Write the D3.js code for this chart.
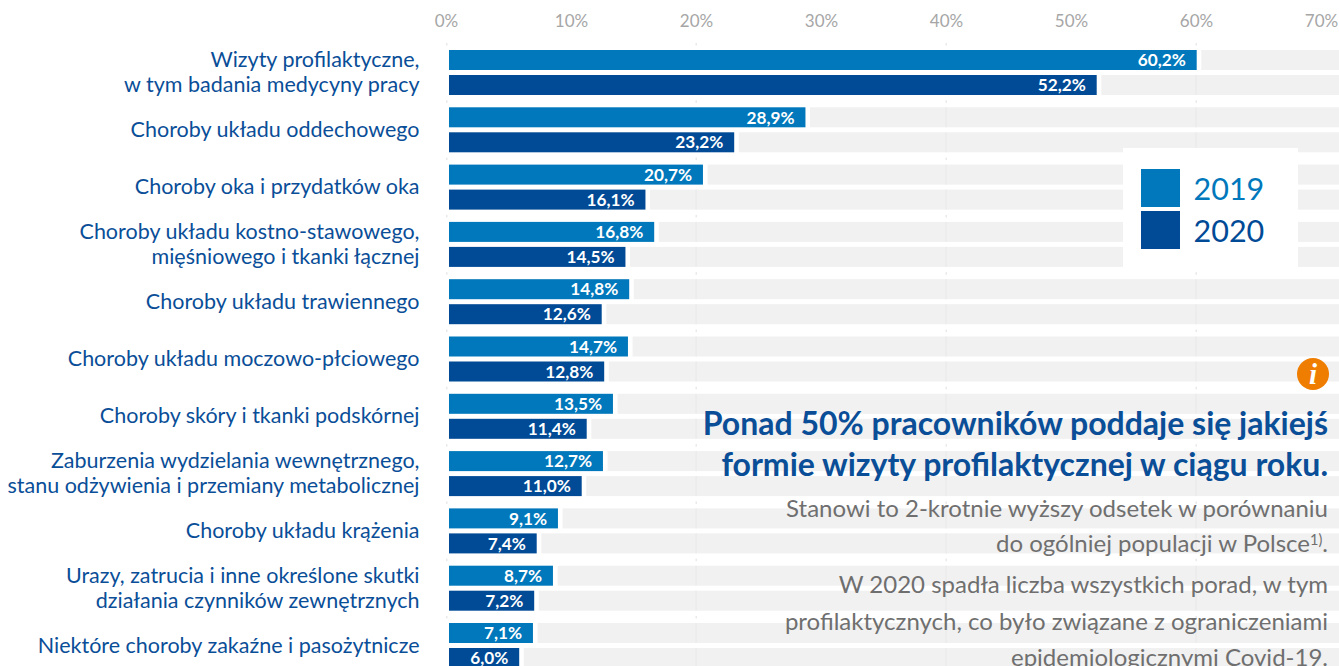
<!DOCTYPE html>
<html><head><meta charset="utf-8">
<script src="https://cdn.jsdelivr.net/npm/d3@7"></script>
<style>html,body{margin:0;padding:0;background:#fff;overflow:hidden}svg{display:block}text{font-family:Lato,sans-serif}</style>
</head><body><div id="c"></div>
<script>
const categories=[
 ["Wizyty profilaktyczne,","w tym badania medycyny pracy"],
 ["Choroby układu oddechowego"],
 ["Choroby oka i przydatków oka"],
 ["Choroby układu kostno-stawowego,","mięśniowego i tkanki łącznej"],
 ["Choroby układu trawiennego"],
 ["Choroby układu moczowo-płciowego"],
 ["Choroby skóry i tkanki podskórnej"],
 ["Zaburzenia wydzielania wewnętrznego,","stanu odżywienia i przemiany metabolicznej"],
 ["Choroby układu krążenia"],
 ["Urazy, zatrucia i inne określone skutki","działania czynników zewnętrznych"],
 ["Niektóre choroby zakaźne i pasożytnicze"]];
const values2019=[60.2,28.9,20.7,16.8,14.8,14.7,13.5,12.7,9.1,8.7,7.1];
const values2020=[52.2,23.2,16.1,14.5,12.6,12.8,11.4,11.0,7.4,7.2,6.0];
const seriesNames=["2019","2020"];
const tickValues=[0,10,20,30,40,50,60,70];
const gridValues=[0,20,40,60];
const headline=["Ponad 50% pracowników poddaje się jakiejś","formie wizyty profilaktycznej w ciągu roku."];

const W=1339,H=666;
const c19="#0078bb",c20="#004a96",navy="#0a4e98";
const svg=d3.select("#c").append("svg").attr("width",W).attr("height",H);
const x=d3.scaleLinear().domain([0,70]).range([446,1321]);
const y=d3.scaleBand().domain(d3.range(categories.length)).range([50,50+57.3*categories.length]);
const sub=d3.scaleOrdinal().domain([0,1]).range([0,25]);
const barH=20;

const rows=svg.append("g").selectAll("g").data(categories.map((d,i)=>i)).join("g").attr("transform",i=>`translate(0,${y(i)})`);
// small grid marks between groups
gridValues.forEach(g=>{
  rows.append("rect").attr("x",x(g)+(g===0?0:-0.5)).attr("y",-7).attr("width",1.5).attr("height",2.5).attr("fill","#e9e9e9");
});
[values2019,values2020].forEach((vals,s)=>{
  rows.append("rect").attr("x",i=>x(vals[i])+2.8).attr("y",sub(s)).attr("width",i=>W+20-x(vals[i])).attr("height",barH).attr("fill","#f1f1f1");
  gridValues.forEach(g=>{
    rows.filter(i=>x(g)>x(vals[i])+2.8).append("rect").attr("x",x(g)-0.5).attr("y",sub(s)).attr("width",1.2).attr("height",barH).attr("fill","#eaeaea");
  });
  rows.append("rect").attr("x",x(0)+3).attr("y",sub(s)).attr("width",i=>x(vals[i])-x(0)-4.8).attr("height",barH).attr("fill",s?c20:c19);
  rows.append("text").attr("x",i=>x(vals[i])-12.7).attr("y",sub(s)+16.2).attr("text-anchor","end").attr("fill","#fff")
    .attr("font-size",17.2).attr("font-weight",700).text(i=>vals[i].toFixed(1).replace(".",",")+"%");
});
// axis
const axis=d3.axisTop(x).tickValues(tickValues).tickSize(0).tickFormat(d=>d+"%");
const ax=svg.append("g").attr("transform","translate(0,27)").call(axis);
ax.select(".domain").remove();
ax.selectAll("text").attr("font-size",17).attr("font-family","Lato").attr("fill","#a6a6a6").attr("y",0);
// category labels
const lab=svg.append("g").selectAll("text").data(categories).join("text")
 .attr("text-anchor","end").attr("fill",navy).attr("font-size",21.5);
lab.each(function(d,i){
  const sel=d3.select(this), cy=y(i)+22.5;
  d.forEach((t,k)=>{
    const by=d.length===2?cy+(k===0?-5.5:19.5):cy+7;
    sel.append("tspan").attr("x",419.5).attr("y",by).text(t);
  });
});
// legend
const lg=svg.append("g");
lg.append("rect").attr("x",1123).attr("y",148).attr("width",175).attr("height",119).attr("fill","#fff");
seriesNames.forEach((n,i)=>{
  lg.append("rect").attr("x",1141).attr("y",169+42*i).attr("width",39).attr("height",38).attr("fill",i?c20:c19);
  lg.append("text").attr("x",1193.5).attr("y",200+42*i).attr("font-size",30.5).attr("fill",i?c20:c19).text(n);
});
// info icon
svg.append("ellipse").attr("cx",1313).attr("cy",374).attr("rx",16).attr("ry",16).attr("fill","#ef7d00");
svg.append("text").attr("x",1313).attr("y",384).attr("text-anchor","middle").attr("fill","#fff").attr("font-size",29)
 .style("font-family","'Liberation Serif'").attr("font-weight",700).attr("font-style","italic").text("i");
// headline
headline.forEach((t,i)=>svg.append("text").attr("x",1328).attr("y",435+40.5*i).attr("text-anchor","end").attr("fill",navy)
 .attr("font-size",32).attr("font-weight",700).text(t));
// body
const body=[[1328,517,"Stanowi to 2-krotnie wyższy odsetek w porównaniu"],[1328,593,"W 2020 spadła liczba wszystkich porad, w tym"],[1328,630,"profilaktycznych, co było związane z ograniczeniami"],[1328,666,"epidemiologicznymi Covid-19."]];
body.forEach(b=>svg.append("text").attr("x",b[0]).attr("y",b[1]).attr("text-anchor","end").attr("fill","#6f6f6f").attr("font-size",24).text(b[2]));
const sup=svg.append("text").attr("x",1328).attr("y",552).attr("text-anchor","end").attr("fill","#6f6f6f").attr("font-size",24);
sup.append("tspan").text("do ogólniej populacji w Polsce");
sup.append("tspan").attr("font-size",14.5).attr("dy",-7).text("1)");
sup.append("tspan").attr("dy",7).text(".");
</script></body></html>
